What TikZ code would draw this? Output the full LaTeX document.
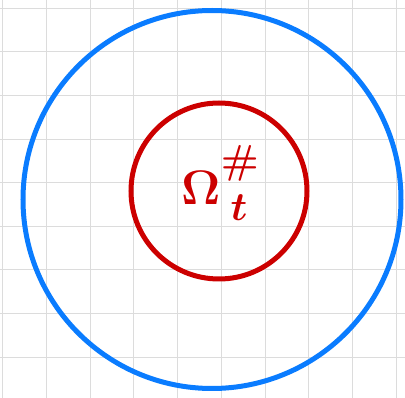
\documentclass[tikz,border=0pt]{standalone}
\usepackage{amsmath}
\usepackage{xcolor}
\usepackage{tikz}
\usetikzlibrary{positioning}
\definecolor{ringblue}{HTML}{0A7CFF}
\definecolor{ringred}{HTML}{CC0000}
\definecolor{gridgray}{HTML}{DCDCDC}

\begin{document}
\begin{tikzpicture}[x=1pt, y=-1pt, ring/.style={draw, circle, line width=5pt, inner sep=0pt}, gridline/.style={gridgray, line width=0.8pt}]
\useasboundingbox (0,0) rectangle (405,398);
\foreach \i in {0,...,9} \draw[gridline] (2.7+43.7*\i,0) -- (2.7+43.7*\i,398);
\foreach \j in {0,...,8} \draw[gridline] (0,8.3+43.6*\j) -- (405,8.3+43.6*\j);
\node[ring, ringblue, minimum size=378pt] (outer) at (212,199.5) {};
\node[ring, ringred, minimum size=176pt] (inner) at (219,191) {};
\node[ringred, inner sep=0pt, anchor=base west, font=\Huge, scale=1.95] (omega) at (181,205) {$\boldsymbol{\Omega}^{\raisebox{7pt}{$\scriptstyle\boldsymbol{\#}$}}_{\hspace{5pt}\boldsymbol{t}}$};
\end{tikzpicture}
\end{document}
